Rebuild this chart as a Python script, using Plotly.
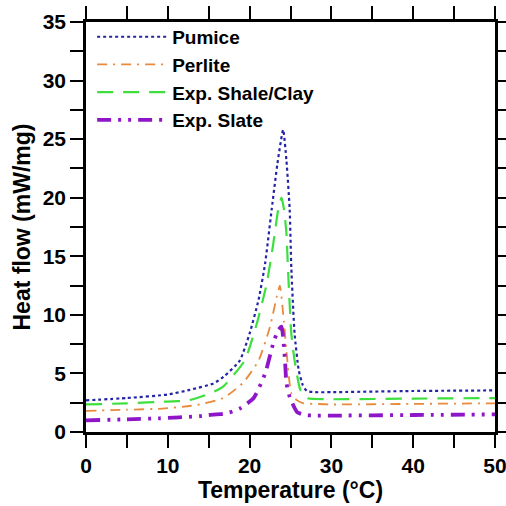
import plotly.graph_objects as go

# ---- data ----
pumice_T = [0, 5, 10, 12.7, 15.6, 16.8, 18.8, 20.0, 21.1, 21.9, 22.7, 23.4, 24.1,
            24.5, 24.9, 25.1, 25.5, 26.0, 26.5, 27.0, 28, 30, 40, 50]
pumice_H = [2.7, 2.9, 3.2, 3.6, 4.15, 4.7, 6.1, 8.4, 11.3, 14.4, 19.0, 22.9, 25.8,
            23.2, 19.0, 14.0, 8.4, 5.3, 4.0, 3.5, 3.4, 3.4, 3.5, 3.55]

perlite_T = [0, 5, 9.4, 12.4, 13.5, 16.8, 19.2, 21.1, 22.5, 23.4, 23.7, 24.2, 24.5,
             25.1, 25.8, 26.6, 28, 30, 40, 50]
perlite_H = [1.8, 1.9, 2.0, 2.2, 2.3, 2.9, 4.2, 6.1, 9.0, 11.8, 12.5, 9.4, 7.0,
             3.3, 2.7, 2.45, 2.4, 2.35, 2.4, 2.45]

shale_T = [0, 5, 10, 12.5, 15.2, 16.8, 19.4, 20.9, 22.1, 22.9, 23.5, 23.9, 24.2, 24.5,
           24.7, 25.1, 25.5, 26.2, 27.0, 30, 40, 50]
shale_H = [2.35, 2.45, 2.6, 2.7, 3.3, 3.9, 6.1, 9.3, 12.7, 16.1, 19.0, 20.0, 19.0, 17.0,
           13.8, 8.4, 6.1, 3.6, 2.9, 2.8, 2.85, 2.9]

slate_T = [0, 5, 9.0, 13.9, 15.0, 17.2, 18.8, 20.5, 21.9, 22.9, 23.5, 23.9, 24.3, 24.5,
           24.9, 25.8, 26.8, 28, 30, 40, 50]
slate_H = [1.0, 1.08, 1.17, 1.35, 1.45, 1.6, 2.0, 2.9, 5.0, 7.6, 8.7, 9.0, 6.4, 4.2,
           3.0, 1.7, 1.45, 1.4, 1.4, 1.45, 1.5]

series_names = ["Pumice", "Perlite", "Exp. Shale/Clay", "Exp. Slate"]

x_tickvals = [0, 5, 10, 15, 20, 25, 30, 35, 40, 45, 50]
x_ticktext = ["0", "", "10", "", "20", "", "30", "", "40", "", "50"]
y_tickvals = [0, 2.5, 5, 7.5, 10, 12.5, 15, 17.5, 20, 22.5, 25, 27.5, 30, 32.5, 35]
y_ticktext = ["0", "", "5", "", "10", "", "15", "", "20", "", "25", "", "30", "", "35"]

FONT = "Liberation Sans, Arial, sans-serif"

fig = go.Figure()
fig.add_trace(go.Scatter(x=pumice_T, y=pumice_H, name=series_names[0], mode="lines",
                         line=dict(color="#2424a8", width=2.2, dash="3px,3px", shape="spline", smoothing=0.5)))
fig.add_trace(go.Scatter(x=perlite_T, y=perlite_H, name=series_names[1], mode="lines",
                         line=dict(color="#e8893c", width=1.8, dash="10px,6px,2px,6px", shape="spline", smoothing=0.5)))
fig.add_trace(go.Scatter(x=shale_T, y=shale_H, name=series_names[2], mode="lines",
                         line=dict(color="#3ddf3d", width=2.2, dash="16px,10px", shape="spline", smoothing=0.5)))
fig.add_trace(go.Scatter(x=slate_T, y=slate_H, name=series_names[3], mode="lines",
                         line=dict(color="#8e16c8", width=3.8, dash="14px,7px,3px,7px,3px,7px", shape="spline", smoothing=0.5)))

axis_common = dict(
    showline=True, linecolor="black", linewidth=2.5, mirror="ticks",
    ticks="outside", ticklen=13, tickwidth=2, tickcolor="black",
    showgrid=False, zeroline=False, automargin=False, ticklabeloverflow="allow",
    tickfont=dict(family=FONT, size=21, color="black", weight="bold"),
)

fig.update_xaxes(range=[0, 50], tickmode="array", tickvals=x_tickvals, ticktext=x_ticktext,
                 title=dict(text="<b>Temperature (°C)</b>", font=dict(family=FONT, size=23, color="black"), standoff=6),
                 **axis_common)
fig.update_yaxes(range=[0, 35], tickmode="array", tickvals=y_tickvals, ticktext=y_ticktext,
                 title=dict(text="<b>Heat flow (mW/mg)</b>", font=dict(family=FONT, size=23, color="black"), standoff=6),
                 **axis_common)

fig.update_layout(
    width=506, height=506,
    margin=dict(l=86, r=11, t=22, b=74),
    plot_bgcolor="white", paper_bgcolor="white",
    legend=dict(x=0.015, y=1.01, xanchor="left", yanchor="top", bgcolor="rgba(0,0,0,0)",
                font=dict(family=FONT, size=19, color="black", weight="bold"),
                itemwidth=70, tracegroupgap=0),
    showlegend=True,
)

fig.write_html("out.html")
